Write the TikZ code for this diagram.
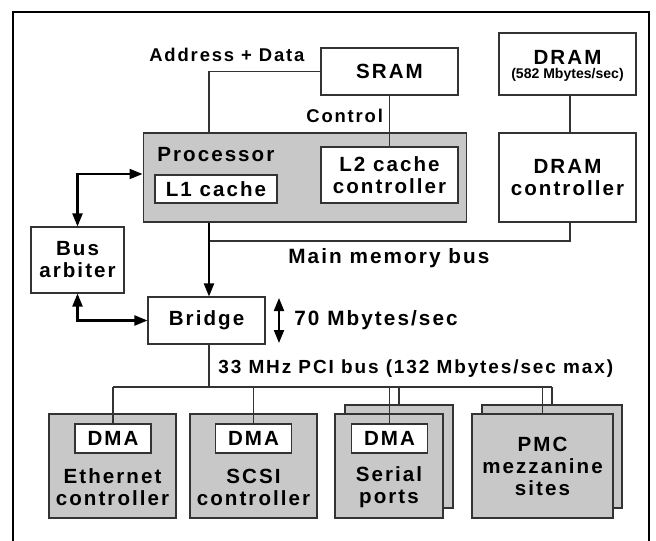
\documentclass[tikz,border=0pt]{standalone}
\usepackage{fontspec}
\newfontfamily\diagfont{Liberation Sans}[LetterSpace=10]
\newfontfamily\diagnarrow{Liberation Sans}
\usetikzlibrary{arrows.meta}
\definecolor{cardgray}{RGB}{200,200,200}

\begin{document}
\begin{tikzpicture}[x=0.02cm,y=-0.02cm,
    every node/.style={inner sep=0pt,align=center,font=\diagfont\bfseries\fontsize{11.7}{12.5}\selectfont},
    box/.style={draw=black!80,line width=0.6pt,fill=white},
    card/.style={box,fill=cardgray},
    lbl/.style={anchor=west,font=\diagfont\bfseries\fontsize{10.5}{12}\selectfont},
    wire/.style={draw=black!80,line width=0.65pt},
    bigarrow/.style={line width=1.15pt,>={Triangle[length=7.4pt,width=5.7pt]}}]
  \useasboundingbox (0,0) rectangle (656,541);
  \draw[line width=1.5pt] (13,541) -- (13,12) -- (649,12) -- (649,541);

  % memory
  \node[box,minimum width=2.74cm,minimum height=0.94cm] (sram) at (389.5,71.5) {SRAM};
  \node[box,minimum width=2.74cm,minimum height=1.24cm] (dram) at (567.5,64) {};
  \node (dramname) at (567.5,57) {DRAM};
  \node[font=\diagnarrow\bfseries\fontsize{8}{9}\selectfont] (dramrate) at (567.5,75) {(582 Mbytes/sec)};

  % processor
  \node[card,minimum width=6.48cm,minimum height=1.78cm] (proc) at (305,177.5) {};
  \node[anchor=west] (procname) at (157,155) {Processor};
  \node[box,minimum width=2.44cm,minimum height=0.56cm] (l1) at (216,189) {L1 cache};
  \node[box,minimum width=2.74cm,minimum height=1.12cm] (l2) at (389.5,175) {L2 cache\\controller};
  \node[box,minimum width=2.74cm,minimum height=1.78cm] (dramctl) at (567.5,177.5) {DRAM\\controller};
  \node[box,minimum width=1.86cm,minimum height=1.32cm] (arb) at (77.5,260) {Bus\\arbiter};
  \node[box,minimum width=2.34cm,minimum height=0.94cm] (bridge) at (206.5,320.5) {Bridge};

  \node[lbl] (addr) at (149,55) {Address + Data};
  \node[lbl] (ctl) at (306,116) {Control};
  \node[lbl,font=\diagfont\bfseries\fontsize{11.8}{12.5}\selectfont] (mainbus) at (288,258) {Main memory bus};
  \node[lbl,font=\diagfont\bfseries\fontsize{11.8}{12.5}\selectfont] (rate) at (294,320) {70 Mbytes/sec};
  \node[lbl,font=\diagfont\bfseries\fontsize{10.8}{12}\selectfont] (pcibus) at (218,369) {33 MHz PCI bus (132 Mbytes/sec max)};

  % PCI cards
  \node[card,minimum width=2.54cm,minimum height=2.08cm] (eth) at (112.5,466) {};
  \node[box,minimum width=1.52cm,minimum height=0.58cm] (ethdma) at (113,438.5) {DMA};
  \node (ethname) at (112.5,487) {Ethernet\\controller};
  \node[card,minimum width=2.54cm,minimum height=2.08cm] (scsi) at (253.5,466) {};
  \node[box,minimum width=1.52cm,minimum height=0.58cm] (scsidma) at (253.5,438.5) {DMA};
  \node (scsiname) at (253.5,487) {SCSI\\controller};
  \node[card,minimum width=2.16cm,minimum height=2.06cm] (serback) at (399,456.5) {};
  \node[card,minimum width=2.16cm,minimum height=2.08cm] (ser) at (389,466) {};
  \node[box,minimum width=1.52cm,minimum height=0.58cm] (serdma) at (389.5,438.5) {DMA};
  \node (sername) at (389,487) {Serial\\ports};
  \node[card,minimum width=2.80cm,minimum height=2.06cm] (pmcback) at (552,456.5) {};
  \node[card,minimum width=2.82cm,minimum height=2.08cm] (pmc) at (542.5,466) {PMC\\mezzanine\\sites};

  \coordinate (mbus) at (209,241);
  \coordinate (mend) at (570,241);
  \coordinate (pci) at (209,387);
  \coordinate (ratetop) at (279,298);
  \coordinate (ratebot) at (279,343);

  \draw[wire] (proc.north -| mbus) |- (sram.west);
  \draw[wire] (sram.south) -- (l2.north);
  \draw[wire] (dram.south -| mend) -- (dramctl.north -| mend);
  \draw[wire] (mbus) -- (mend) -- (dramctl.south -| mend);
  \draw[bigarrow,->] (proc.south -| mbus) -- (bridge.north -| mbus);
  \draw[bigarrow,<->] (arb.north) |- ([yshift=0.07cm]proc.west);
  \draw[bigarrow,<->] (arb.south) |- (bridge.west);
  \draw[bigarrow,<->] (ratetop) -- (ratebot);

  \draw[wire] (bridge.south -| pci) -- (pci);
  \draw[wire] (ethdma.north |- pci) -- (pmcback.north |- pci);
  \draw[wire] (ethdma.north) -- (ethdma.north |- pci);
  \draw[wire] (scsidma.north) -- (scsidma.north |- pci);
  \draw[wire] (serdma.north) -- (serdma.north |- pci);
  \draw[wire] (serback.north) -- (serback.north |- pci);
  \draw[wire] (pmc.north) -- (pmc.north |- pci);
  \draw[wire] (pmcback.north) -- (pmcback.north |- pci);
\end{tikzpicture}
\end{document}
